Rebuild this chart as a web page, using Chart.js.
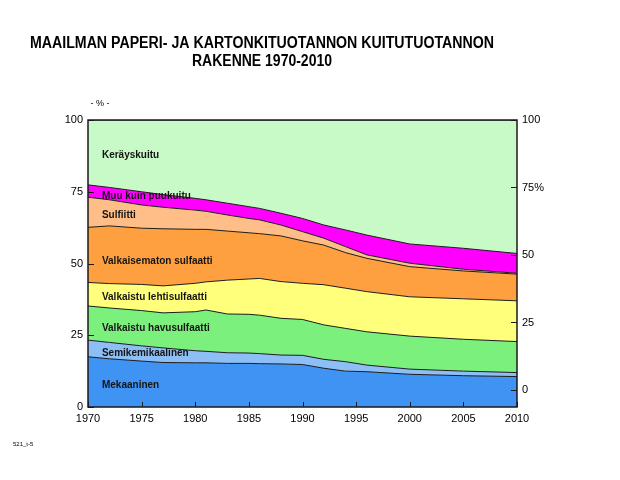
<!DOCTYPE html>
<html>
<head>
<meta charset="utf-8">
<script src="https://cdn.jsdelivr.net/npm/chart.js@4"></script>
<style>
  html, body { margin: 0; padding: 0; background: #fff; }
  #wrap { width: 620px; height: 480px; position: relative; }
</style>
</head>
<body>
<div id="wrap"><canvas id="chart" width="620" height="480"></canvas></div>
<script>
// -------------------- DATA (osuus %, luettu kuvasta) --------------------
const years = [1970, 1972, 1975, 1977, 1980, 1981, 1983, 1985, 1986, 1988, 1990, 1992, 1994, 1996, 2000, 2005, 2010];

const mekaaninen       = [17.5, 16.8, 16.0, 15.5, 15.4, 15.4, 15.2, 15.2, 15.1, 15.0, 14.8, 13.5, 12.5, 12.3, 11.4, 10.9, 10.6];
const semikemikaalinen = [5.8, 5.7, 5.3, 5.1, 4.2, 4.0, 3.7, 3.6, 3.5, 3.1, 3.2, 3.1, 3.3, 2.3, 1.8, 1.6, 1.4];
const havusulfaatti    = [11.9, 12.0, 12.3, 12.2, 13.6, 14.4, 13.5, 13.5, 13.4, 12.8, 12.5, 12.0, 11.6, 11.6, 11.5, 11.1, 10.8];
const lehtisulfaatti   = [8.2, 8.5, 9.1, 9.4, 9.9, 9.8, 11.8, 12.3, 12.8, 12.8, 12.6, 14.0, 14.0, 14.0, 13.7, 14.1, 14.2];
const valkaisematon    = [19.2, 20.1, 19.6, 19.9, 18.8, 18.3, 17.1, 16.1, 15.6, 15.9, 14.8, 13.8, 12.4, 11.6, 10.5, 9.7, 9.3];
const sulfiitti        = [10.5, 9.1, 8.1, 7.5, 6.7, 6.3, 5.6, 5.0, 4.8, 3.8, 3.2, 2.4, 2.1, 1.2, 1.2, 0.6, 0.3];
const muuKuinPuukuitu  = [4.3, 4.3, 4.6, 4.4, 4.1, 4.0, 4.1, 4.1, 4.0, 4.1, 4.6, 4.6, 5.8, 6.9, 6.7, 7.3, 6.9];
const kerayskuitu      = [22.6, 23.5, 25.0, 26.0, 27.3, 27.8, 29.0, 30.2, 30.8, 32.5, 34.3, 36.6, 38.3, 40.1, 43.2, 44.7, 46.5];

const xTicks = [1970, 1975, 1980, 1985, 1990, 1995, 2000, 2005, 2010];
const yTicks = [0, 25, 50, 75, 100];

const seriesNames = [
  "Mekaaninen", "Semikemikaalinen", "Valkaistu havusulfaatti", "Valkaistu lehtisulfaatti",
  "Valkaisematon sulfaatti", "Sulfiitti", "Muu kuin puukuitu", "Keräyskuitu"
];
const seriesValues = [
  mekaaninen, semikemikaalinen, havusulfaatti, lehtisulfaatti,
  valkaisematon, sulfiitti, muuKuinPuukuitu, kerayskuitu
];
const seriesColors = [
  "#3f93f2", "#8dbff6", "#7cf07c", "#ffff7c",
  "#ffa040", "#ffbe88", "#ff00ff", "#c8fac8"
];

const FONT = "'Liberation Sans', Arial, sans-serif";

// -------------------- PLUGINS --------------------
const decorations = {
  id: "decorations",
  afterDatasetsDraw(chart) {
    const ctx = chart.ctx;
    const area = chart.chartArea;
    const x = chart.scales.x;
    const yL = chart.scales.y;
    const yR = chart.scales.y2;

    ctx.save();

    // series labels inside the areas
    const labelPos = [
      [1971.3, 7.7], [1971.3, 18.8], [1971.3, 27.5], [1971.3, 38.3],
      [1971.3, 50.9], [1971.3, 66.9], [1971.3, 73.5], [1971.3, 87.8]
    ];
    ctx.fillStyle = "#141414";
    ctx.font = "bold 10px " + FONT;
    ctx.textBaseline = "middle";
    ctx.textAlign = "left";
    seriesNames.forEach((name, i) => {
      ctx.fillText(name, x.getPixelForValue(labelPos[i][0]), yL.getPixelForValue(labelPos[i][1]));
    });

    // inner tick marks
    ctx.strokeStyle = "#1a1a1a";
    ctx.lineWidth = 1;
    ctx.beginPath();
    xTicks.forEach((t) => {
      const px = Math.round(x.getPixelForValue(t)) + 0.5;
      ctx.moveTo(px, area.bottom);
      ctx.lineTo(px, area.bottom - 5);
    });
    yTicks.forEach((t) => {
      const py = Math.round(yL.getPixelForValue(t)) + 0.5;
      ctx.moveTo(area.left, py);
      ctx.lineTo(area.left + 6, py);
      const pr = Math.round(yR.getPixelForValue(t)) + 0.5;
      ctx.moveTo(area.right, pr);
      ctx.lineTo(area.right - 6, pr);
    });
    ctx.stroke();

    // frame
    ctx.lineWidth = 1.5;
    ctx.strokeRect(area.left, area.top, area.right - area.left, area.bottom - area.top);

    // title
    ctx.fillStyle = "#000";
    ctx.font = "bold 16px " + FONT;
    ctx.textAlign = "center";
    ctx.textBaseline = "middle";
    ctx.fillText("MAAILMAN PAPERI- JA KARTONKITUOTANNON KUITUTUOTANNON", 262, 44, 464);
    ctx.fillText("RAKENNE 1970-2010", 262, 62, 140);

    // unit + footnote
    ctx.font = "9px " + FONT;
    ctx.fillText("- % -", 100, 104);
    ctx.font = "6px " + FONT;
    ctx.textAlign = "left";
    ctx.fillText("521_t-5", 13, 444);

    ctx.restore();
  }
};

// -------------------- CHART --------------------
window.addEventListener("load", () => {
  const canvas = document.getElementById("chart");

  new Chart(canvas, {
    type: "line",
    data: {
      datasets: seriesValues.map((vals, i) => ({
        label: seriesNames[i],
        data: vals.map((v, j) => ({ x: years[j], y: v })),
        backgroundColor: seriesColors[i],
        borderColor: "#1c1c1c",
        borderWidth: 1,
        pointRadius: 0,
        tension: 0,
        fill: i === 0 ? "origin" : "-1",
        yAxisID: "y"
      }))
    },
    options: {
      responsive: false,
      animation: false,
      layout: { padding: { top: 120, left: 0, right: 0, bottom: 0 } },
      plugins: {
        legend: { display: false },
        tooltip: { enabled: false },
        title: { display: false }
      },
      scales: {
        x: {
          type: "linear",
          min: 1970,
          max: 2010,
          afterBuildTicks: (s) => { s.ticks = xTicks.map((v) => ({ value: v })); },
          afterFit: (s) => { s.height = 73; },
          grid: { display: false, drawTicks: false },
          border: { display: false },
          ticks: {
            padding: 5,
            color: "#000",
            font: { family: FONT, size: 11 },
            callback: (v) => String(v)
          }
        },
        y: {
          stacked: true,
          min: 0,
          max: 100,
          position: "left",
          afterBuildTicks: (s) => { s.ticks = yTicks.map((v) => ({ value: v })); },
          afterFit: (s) => { s.width = 88; },
          grid: { display: false, drawTicks: false },
          border: { display: false },
          ticks: {
            padding: 5,
            color: "#000",
            font: { family: FONT, size: 11 }
          }
        },
        y2: {
          display: true,
          min: -6.3,
          max: 100,
          position: "right",
          afterBuildTicks: (s) => { s.ticks = yTicks.map((v) => ({ value: v })); },
          afterFit: (s) => { s.width = 103; },
          grid: { display: false, drawTicks: false },
          border: { display: false },
          ticks: {
            padding: 5,
            color: "#000",
            font: { family: FONT, size: 11 },
            callback: (v) => (v === 75 ? "75%" : String(v))
          }
        }
      }
    },
    plugins: [decorations]
  });
});
</script>
</body>
</html>
